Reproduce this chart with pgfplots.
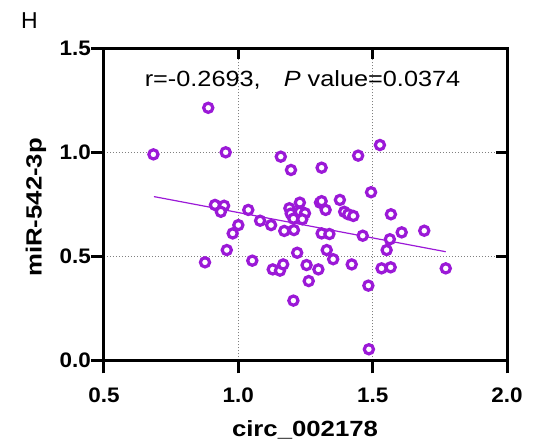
\documentclass[border=0pt]{standalone}
\usepackage{fontspec}
\setmainfont{Liberation Sans}
\newfontfamily\tickfont{Liberation Sans}[FakeStretch=1.07]
\newfontfamily\labfont{Liberation Sans}[FakeStretch=1.17]
\newfontfamily\annfont{Liberation Sans}[FakeStretch=1.15]
\usepackage{pgfplots}
\pgfplotsset{compat=1.18}
\definecolor{mypurple}{RGB}{155,25,215}
\begin{document}
\begin{tikzpicture}
\path[use as bounding box] (-104pt,-83.7pt) rectangle (432pt,360.3pt);
\begin{axis}[
  at={(0pt,0pt)}, anchor=south west,
  scale only axis, width=403pt, height=312pt,
  xmin=0.5, xmax=2.0, ymin=0, ymax=1.5,
  xtick={0.5,1.0,1.5,2.0}, ytick={0,0.5,1.0,1.5},
  xtick pos=left, ytick pos=left,
  tick align=outside,
  major tick length=13pt,
  axis line style={line width=3pt},
  every tick/.style={black, line width=3pt},
  grid=major,
  grid style={gray, line width=1.1pt, dash pattern=on 1.1pt off 1.9pt},
  /pgf/number format/fixed,
  /pgf/number format/fixed zerofill,
  /pgf/number format/precision=1,
  /pgf/number format/assume math mode=true,
  tick label style={font=\fontsize{21}{25}\selectfont\tickfont\bfseries},
  xticklabel style={inner sep=0pt, anchor=north, yshift=-14.5pt},
  yticklabel style={inner sep=0pt, anchor=east},
  xlabel={circ\_002178},
  ylabel={miR-542-3p},
  every axis x label/.style={at={(axis description cs:0.4988,-0.245)}, anchor=base, inner sep=0pt},
  every axis y label/.style={at={(axis description cs:-0.1546,0.49)}, anchor=base, rotate=90, inner sep=0pt},
  label style={font=\fontsize{22}{26}\selectfont\labfont\bfseries},
]
\addplot[mypurple, line width=1.2pt] coordinates {(0.686,0.787) (1.772,0.522)};
\addplot[only marks, mypurple, mark=*, mark size=4.6pt, every mark/.append style={line width=3.2pt, draw=mypurple, fill=white}] table {
x y
0.684 0.990
0.888 1.214
0.953 1.000
0.876 0.471
0.913 0.747
0.947 0.743
0.935 0.714
0.957 0.530
0.979 0.610
1.000 0.650
1.037 0.723
1.052 0.479
1.081 0.671
1.122 0.650
1.128 0.437
1.155 0.431
1.167 0.461
1.171 0.622
1.158 0.979
1.196 0.915
1.190 0.731
1.229 0.758
1.195 0.705
1.229 0.714
1.248 0.707
1.205 0.681
1.238 0.678
1.207 0.626
1.219 0.517
1.205 0.287
1.254 0.458
1.262 0.381
1.298 0.437
1.310 0.926
1.304 0.758
1.310 0.765
1.325 0.723
1.310 0.610
1.339 0.607
1.329 0.530
1.353 0.486
1.378 0.771
1.394 0.714
1.409 0.702
1.428 0.694
1.446 0.984
1.422 0.461
1.463 0.599
1.484 0.359
1.486 0.053
1.494 0.808
1.527 1.035
1.533 0.442
1.567 0.447
1.552 0.530
1.564 0.582
1.568 0.702
1.608 0.615
1.692 0.623
1.772 0.442
};
\node[anchor=base, inner sep=0pt, font=\fontsize{22}{26}\selectfont\annfont] at (axis cs:1.239,1.315) {r=-0.2693,\hspace{23pt}\textit{P} value=0.0374};
\end{axis}
\begin{axis}[
  at={(0pt,0pt)}, anchor=south west,
  scale only axis, width=403pt, height=312pt,
  xmin=0.5, xmax=2.0, ymin=0, ymax=1.5,
  xtick={1.0,1.5}, ytick={0.5,1.0},
  xtick pos=right, ytick pos=right,
  tick align=inside,
  major tick length=11pt,
  xticklabels={}, yticklabels={},
  axis line style={draw=none},
  every tick/.style={black, line width=3pt},
]
\end{axis}
\node[anchor=base west, inner sep=0pt] at (-83pt,332pt) {\fontsize{23}{27}\selectfont H};
\end{tikzpicture}
\end{document}
